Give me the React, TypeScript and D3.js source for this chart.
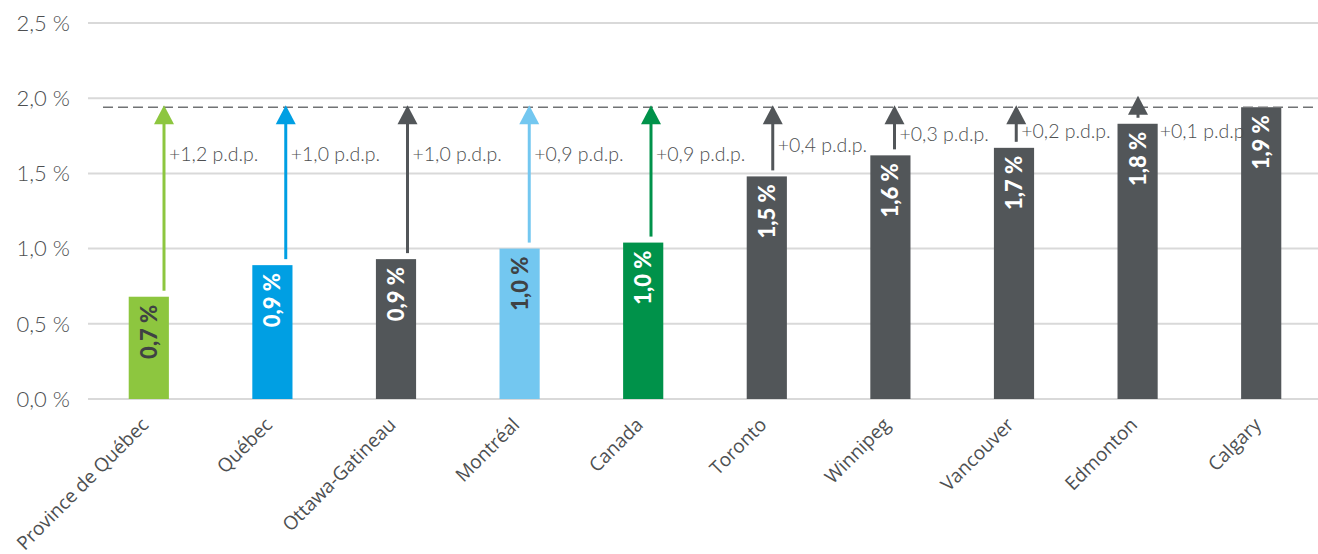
import { useRef, useEffect } from "react";
import * as d3 from "d3";

const categories = [
  "Province de Québec",
  "Québec",
  "Ottawa-Gatineau",
  "Montréal",
  "Canada",
  "Toronto",
  "Winnipeg",
  "Vancouver",
  "Edmonton",
  "Calgary"
];
const values = [0.68, 0.89, 0.93, 1.0, 1.04, 1.48, 1.62, 1.67, 1.83, 1.94];
const valueLabels = ["0,7 %", "0,9 %", "0,9 %", "1,0 %", "1,0 %", "1,5 %", "1,6 %", "1,7 %", "1,8 %", "1,9 %"];
const gapLabels = [
  "+1,2 p.d.p.",
  "+1,0 p.d.p.",
  "+1,0 p.d.p.",
  "+0,9 p.d.p.",
  "+0,9 p.d.p.",
  "+0,4 p.d.p.",
  "+0,3 p.d.p.",
  "+0,2 p.d.p.",
  "+0,1 p.d.p",
  ""
];
const barColors = ["#8dc63f", "#009fe3", "#525659", "#73c7f0", "#00924a", "#525659", "#525659", "#525659", "#525659", "#525659"];
const valueTextColors = ["#3f4244", "#ffffff", "#ffffff", "#3f4244", "#ffffff", "#ffffff", "#ffffff", "#ffffff", "#ffffff", "#ffffff"];
const yTicks = [0, 0.5, 1, 1.5, 2, 2.5];

const W = 1318;
const H = 554;

const App = () => {
  const ref = useRef<SVGSVGElement>(null);

  useEffect(() => {
    const svg = d3.select(ref.current);
    svg.selectAll("*").remove();

    const y = d3.scaleLinear().domain([0, 2.5]).range([399, 23]);
    const x = d3
      .scaleBand()
      .domain(categories)
      .range([87, 1323])
      .paddingInner(0.675)
      .paddingOuter(0.3375);
    // arrows sit a little right of the bar centres, on their own spacing
    const arrowX = d3
      .scalePoint()
      .domain(categories.slice(0, 9))
      .range([164, 1138]);

    const fmt = (v: number) => d3.format(".1f")(v).replace(".", ",") + " %";

    // grid
    svg
      .append("g")
      .selectAll("line")
      .data(yTicks)
      .join("line")
      .attr("x1", 88)
      .attr("x2", W)
      .attr("y1", (d) => y(d))
      .attr("y2", (d) => y(d))
      .attr("stroke", "#d9d9d9")
      .attr("stroke-width", 2);

    svg
      .append("g")
      .selectAll("text")
      .data(yTicks)
      .join("text")
      .attr("x", 70)
      .attr("y", (d) => y(d))
      .attr("dy", "0.35em")
      .attr("text-anchor", "end")
      .attr("font-family", "Lato")
      .attr("font-weight", 300)
      .attr("font-size", 22)
      .attr("fill", "#4d4f51")
      .text(fmt);

    // bars
    svg
      .append("g")
      .selectAll("rect")
      .data(values)
      .join("rect")
      .attr("x", (d, i) => x(categories[i]) as number)
      .attr("y", (d) => y(d))
      .attr("width", x.bandwidth())
      .attr("height", (d) => y(0) - y(d))
      .attr("fill", (d, i) => barColors[i]);

    // target line
    const target = values[values.length - 1];
    svg
      .append("line")
      .attr("x1", 103)
      .attr("x2", W)
      .attr("y1", y(target))
      .attr("y2", y(target))
      .attr("stroke", "#717375")
      .attr("stroke-width", 1.6)
      .attr("stroke-dasharray", "10,5");

    // arrows
    const headH = 19;
    const headW = 20;
    const arrows = svg.append("g");
    categories.slice(0, 9).forEach((c, i) => {
      const ax = arrowX(c) as number;
      const top = y(values[i]);
      const tip = Math.min(y(target) - 2, top - 9 - headH);
      const color = barColors[i];
      arrows
        .append("line")
        .attr("x1", ax)
        .attr("x2", ax)
        .attr("y1", top - 6)
        .attr("y2", tip + headH - 1)
        .attr("stroke", color)
        .attr("stroke-width", 3);
      arrows
        .append("path")
        .attr(
          "d",
          d3.line()([
            [ax, tip],
            [ax + headW / 2, tip + headH],
            [ax - headW / 2, tip + headH]
          ]) + "Z"
        )
        .attr("fill", color);
      const mid = (top + y(target)) / 2 + 3;
      const ly = Math.max(131, Math.min(154, mid));
      const barRight = (x(c) as number) + x.bandwidth();
      const lx = ly > top - 6 ? barRight + 2 : ax + 5;
      arrows
        .append("text")
        .attr("x", lx)
        .attr("y", ly)
        .attr("dy", "0.35em")
        .attr("font-family", "Lato")
        .attr("font-weight", 300)
        .attr("font-size", 19.5)
        .attr("fill", "#4d4f51")
        .text(gapLabels[i]);
    });

    // value labels inside bars
    svg
      .append("g")
      .selectAll("text")
      .data(values)
      .join("text")
      .attr("transform", (d, i) => {
        const cx = (x(categories[i]) as number) + x.bandwidth() / 2;
        return `translate(${cx},${y(d) + 8}) rotate(-90)`;
      })
      .attr("dy", "0.36em")
      .attr("text-anchor", "end")
      .attr("font-family", "Lato")
      .attr("font-weight", 900)
      .attr("font-size", 22)
      .attr("fill", (d, i) => valueTextColors[i])
      .text((d, i) => valueLabels[i]);

    // category labels
    svg
      .append("g")
      .selectAll("text")
      .data(categories)
      .join("text")
      .attr("transform", (d) => {
        const cx = (x(d) as number) + x.bandwidth() / 2;
        return `translate(${cx + 1},${426}) rotate(-45)`;
      })
      .attr("text-anchor", "end")
      .attr("font-family", "Open Sans")
      .attr("font-size", 19)
      .attr("fill", "#4d4f51")
      .text((d) => d);
  }, []);

  return (
    <svg
      ref={ref}
      width={W}
      height={H}
      style={{ position: "absolute", left: 0, top: 0, background: "#fff" }}
    />
  );
};

export default App;
